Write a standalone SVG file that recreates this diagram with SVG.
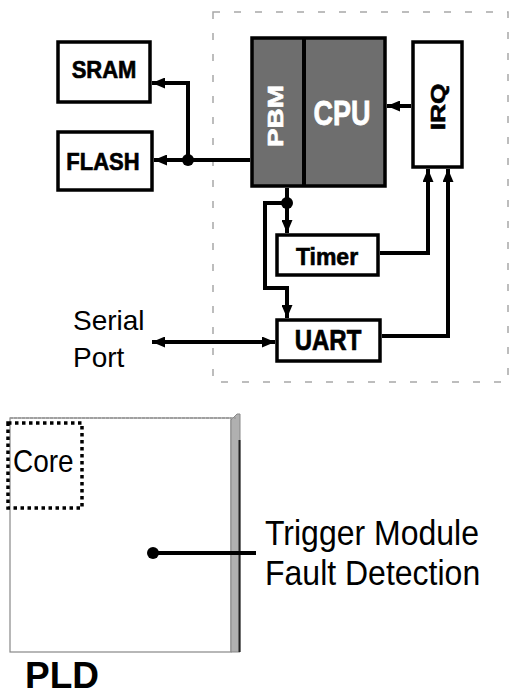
<svg xmlns="http://www.w3.org/2000/svg" width="511" height="695" viewBox="0 0 511 695">
<style>
.box{fill:#fff;stroke:#000;stroke-width:3.5}
.ln{fill:none;stroke:#000;stroke-width:4}
.lb{font-family:"Liberation Sans",Arial,sans-serif;font-weight:bold;fill:#000;stroke:#000;stroke-width:0.6;text-anchor:middle}
.wt{fill:#fff;stroke:#fff}
.tx{font-family:"Liberation Sans",Arial,sans-serif;fill:#000}
</style>
<defs>
<marker id="ah" viewBox="0 0 13 11" refX="13" refY="5.5" markerWidth="13" markerHeight="11" markerUnits="userSpaceOnUse" orient="auto-start-reverse">
<path d="M0,0 L13,5.5 L0,11 z" fill="#000"/>
</marker>
</defs>
<rect id="board" x="213" y="12" width="295" height="370" fill="none" stroke="#a8a8a8" stroke-width="1.5" stroke-dasharray="7 14"/>
<g id="sram"><rect class="box" x="58" y="42" width="92" height="60"/><text class="lb" transform="translate(104,78) scale(1,1.1)" font-size="22">SRAM</text></g>
<g id="flash"><rect class="box" x="58" y="132" width="94" height="58"/><text class="lb" transform="translate(103,170) scale(1,1.1)" font-size="22">FLASH</text></g>
<g id="cpu">
<rect x="252" y="38" width="133" height="148" fill="#6e6e6e" stroke="#000" stroke-width="3.5"/>
<line x1="304" y1="38" x2="304" y2="186" stroke="#000" stroke-width="4"/>
<text class="lb wt" transform="translate(283,116) rotate(-90) scale(1.27,1)" font-size="22">PBM</text>
<text class="lb wt" transform="translate(342,125) scale(1,1.3)" font-size="27">CPU</text>
</g>
<g id="irq"><rect class="box" x="413" y="42" width="49" height="125"/><text class="lb" transform="translate(445,107) rotate(-90) scale(1.25,1)" font-size="21">IRQ</text></g>
<g id="timer"><rect class="box" x="277" y="235" width="101" height="40"/><text class="lb" transform="translate(327,265) scale(1,1.05)" font-size="23">Timer</text></g>
<g id="uart"><rect class="box" x="277" y="320" width="103" height="41"/><text class="lb" transform="translate(328,350) scale(1,1.2)" font-size="24">UART</text></g>
<g id="serial"><text class="tx" x="73" y="330" font-size="28">Serial</text><text class="tx" x="73" y="367" font-size="28">Port</text></g>
<g id="pld">
<rect x="10" y="418" width="221" height="234" fill="#fff" stroke="#888" stroke-width="1.2"/>
<polygon points="231,420 237,414 240,414 240,652 231,652" fill="#b0b0b0" stroke="#888" stroke-width="1"/>
<line x1="239.5" y1="440" x2="239.5" y2="652" stroke="#222" stroke-width="2"/>
<line x1="10" y1="418" x2="236" y2="418" stroke="#999" stroke-width="1.5" stroke-dasharray="3 1"/>
<text class="tx" x="25" y="688" font-size="37" font-weight="bold">PLD</text>
</g>
<g id="core">
<rect x="8" y="423" width="74" height="85" fill="none" stroke="#000" stroke-width="3.5" stroke-dasharray="3.5 3.5"/>
<text class="tx" transform="translate(13,472) scale(1,1.15)" font-size="28">Core</text>
</g>
<g id="trigger">
<text class="tx" transform="translate(265,545) scale(1,1.12)" font-size="32">Trigger Module</text>
<text class="tx" transform="translate(265,585) scale(1,1.12)" font-size="32">Fault Detection</text>
</g>
<g id="connectors">
<line class="ln" x1="250" y1="160" x2="154" y2="160" marker-end="url(#ah)"/>
<polyline class="ln" points="188,160 188,83 152,83" marker-end="url(#ah)"/>
<circle cx="188" cy="160" r="6" fill="#000"/>
<line class="ln" x1="411" y1="106" x2="387" y2="106" marker-end="url(#ah)"/>
<polyline class="ln" points="380,253 428,253 428,169" marker-end="url(#ah)"/>
<polyline class="ln" points="382,336 448,336 448,169" marker-end="url(#ah)"/>
<line class="ln" x1="287" y1="188" x2="287" y2="233" marker-end="url(#ah)"/>
<polyline class="ln" points="287,203 265,203 265,288 287,288 287,318" marker-end="url(#ah)"/>
<circle cx="287" cy="203" r="6" fill="#000"/>
<line class="ln" x1="152" y1="342" x2="275" y2="342" marker-start="url(#ah)" marker-end="url(#ah)"/>
<line class="ln" x1="153" y1="553" x2="256" y2="553" stroke-width="4"/>
<circle cx="153" cy="553" r="6" fill="#000"/>
</g>
</svg>
